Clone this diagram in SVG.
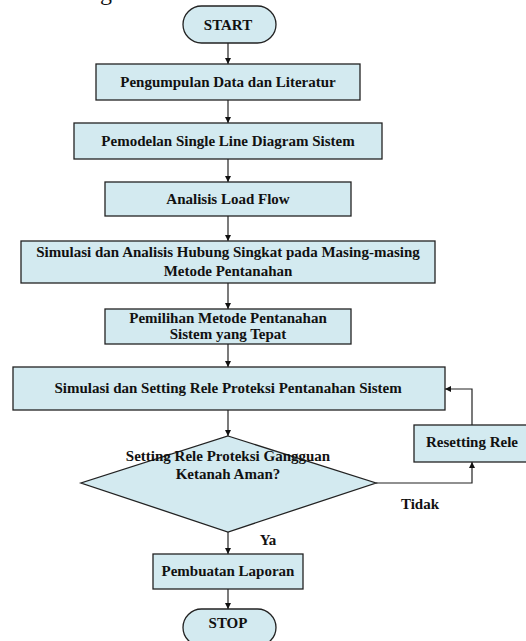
<svg xmlns="http://www.w3.org/2000/svg" width="526" height="641" viewBox="0 0 526 641">
<defs>
<style>
.n{fill:#d3eaf0;stroke:#222;stroke-width:1.3}
.t{font-family:"Liberation Serif","Times New Roman",serif;font-weight:bold;font-size:15px;fill:#111;text-anchor:middle}
.c{fill:none;stroke:#222;stroke-width:1.2}
</style>
<marker id="ah" viewBox="0 0 10 10" refX="10" refY="5" markerWidth="6" markerHeight="6" markerUnits="userSpaceOnUse" orient="auto">
<path d="M0,0 L10,5 L0,10 z" fill="#111"/>
</marker>
</defs>
<rect width="526" height="641" fill="#fff"/>
<text x="100" y="0" style="font-family:'Liberation Serif',serif;font-size:24px;fill:#111">g</text>
<g id="connectors">
<line class="c" x1="228" y1="43" x2="228" y2="64" marker-end="url(#ah)"/>
<line class="c" x1="228" y1="100" x2="228" y2="123" marker-end="url(#ah)"/>
<line class="c" x1="228" y1="159" x2="228" y2="182" marker-end="url(#ah)"/>
<line class="c" x1="228" y1="216" x2="228" y2="241" marker-end="url(#ah)"/>
<line class="c" x1="228" y1="283" x2="228" y2="309" marker-end="url(#ah)"/>
<line class="c" x1="228" y1="344" x2="228" y2="367" marker-end="url(#ah)"/>
<line class="c" x1="228" y1="410" x2="228" y2="436" marker-end="url(#ah)"/>
<line class="c" x1="228" y1="532" x2="228" y2="554" marker-end="url(#ah)"/>
<line class="c" x1="228" y1="589" x2="228" y2="609" marker-end="url(#ah)"/>
<polyline class="c" points="376,483 472,483 472,462" marker-end="url(#ah)"/>
<polyline class="c" points="472,425 472,389 445,389" marker-end="url(#ah)"/>
<text class="t" x="420" y="509">Tidak</text>
<text class="t" x="268" y="545">Ya</text>
</g>
<g id="start"><rect class="n" x="183" y="6" width="93" height="37" rx="18.5"/><text class="t" x="228" y="30">START</text></g>
<g id="n1"><rect class="n" x="96" y="64" width="264" height="36"/><text class="t" x="228" y="87">Pengumpulan Data dan Literatur</text></g>
<g id="n2"><rect class="n" x="74" y="123" width="308" height="36"/><text class="t" x="228" y="146">Pemodelan Single Line Diagram Sistem</text></g>
<g id="n3"><rect class="n" x="105" y="182" width="246" height="34"/><text class="t" x="228" y="204">Analisis Load Flow</text></g>
<g id="n4"><rect class="n" x="21" y="241" width="414" height="42"/><text class="t" x="228" y="257">Simulasi dan Analisis Hubung Singkat pada Masing-masing</text><text class="t" x="228" y="276">Metode Pentanahan</text></g>
<g id="n5"><rect class="n" x="105" y="309" width="246" height="35"/><text class="t" x="228" y="323">Pemilihan Metode Pentanahan</text><text class="t" x="228" y="339">Sistem yang Tepat</text></g>
<g id="n6"><rect class="n" x="13" y="367" width="432" height="43"/><text class="t" x="228" y="393">Simulasi dan Setting Rele Proteksi Pentanahan Sistem</text></g>
<g id="decision"><polygon class="n" points="228,436 376,483 228,532 81,483"/><text class="t" x="228" y="461">Setting Rele Proteksi Gangguan</text><text class="t" x="228" y="479">Ketanah Aman?</text></g>
<g id="reset"><rect class="n" x="414" y="425" width="118" height="37"/><text class="t" x="472" y="447">Resetting Rele</text></g>
<g id="n7"><rect class="n" x="153" y="554" width="150" height="35"/><text class="t" x="228" y="576">Pembuatan Laporan</text></g>
<g id="stop"><rect class="n" x="183" y="609" width="93" height="37" rx="18.5"/><text class="t" x="228" y="628">STOP</text></g>
</svg>
